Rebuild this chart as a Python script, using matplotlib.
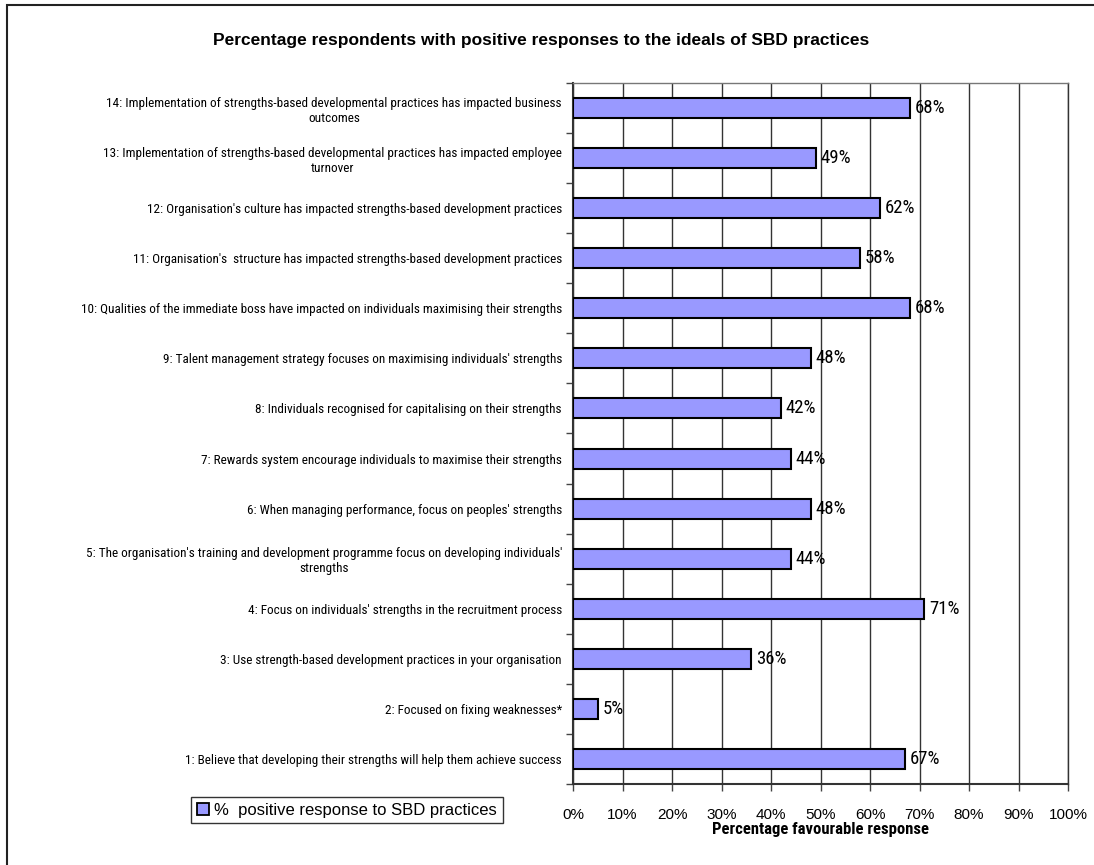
import matplotlib
matplotlib.use("Agg")
import matplotlib.pyplot as plt
from matplotlib.patches import Rectangle, Patch
import numpy as np

plt.rcParams['font.family'] = ['Liberation Sans', 'DejaVu Sans']
narrow = ['Roboto Condensed', 'Liberation Sans', 'DejaVu Sans']

labels = [
    "1: Believe that developing their strengths will help them achieve success",
    "2: Focused on fixing weaknesses*",
    "3: Use strength-based development practices in your organisation",
    "4: Focus on individuals' strengths in the recruitment process",
    "5: The organisation's training and development programme focus on developing individuals'\nstrengths",
    "6: When managing performance, focus on peoples' strengths",
    "7: Rewards system encourage individuals to maximise their strengths",
    "8: Individuals recognised for capitalising on their strengths",
    "9: Talent management strategy focuses on maximising individuals' strengths",
    "10: Qualities of the immediate boss have impacted on individuals maximising their strengths",
    "11: Organisation's  structure has impacted strengths-based development practices",
    "12: Organisation's culture has impacted strengths-based development practices",
    "13: Implementation of strengths-based developmental practices has impacted employee\nturnover",
    "14: Implementation of strengths-based developmental practices has impacted business\noutcomes",
]
values = [67, 5, 36, 71, 44, 48, 44, 42, 48, 68, 58, 62, 49, 68]
xticks = list(range(0, 101, 10))

W, H = 1094, 865
fig = plt.figure(figsize=(W / 100, H / 100), dpi=100)
ax = fig.add_axes([573 / W, 1 - 784 / H, (1068 - 573) / W, (784 - 83) / H])

# outer chart frame (cut off at right/bottom)
fig.patches.append(Rectangle((7 / W, -0.1), 1.2, 1 - 5 / H + 0.1, transform=fig.transFigure,
                             fill=False, edgecolor='#222222', linewidth=1.5))

y = np.arange(len(values))
ax.barh(y, values, height=0.4, color='#9999FF', edgecolor='black', linewidth=1.5, zorder=3)

for yi, v in zip(y, values):
    ax.text(v + 1.0, yi, f"{v}%", va='center', ha='left', fontsize=13.5, family=narrow, zorder=4)

ax.set_xlim(0, 100)
ax.set_ylim(-0.5, len(values) - 0.5)
ax.set_xticks(xticks)
ax.set_xticklabels([f"{t}%" for t in xticks], fontsize=11)
ax.set_yticks(y)
ax.set_yticklabels(labels, fontsize=9.5, family=narrow)
for t in ax.get_yticklabels():
    t.set_multialignment('center')
ax.set_yticks(np.arange(-0.5, len(values), 1), minor=True)
ax.tick_params(axis='y', which='major', length=0, pad=8)
ax.tick_params(axis='y', which='minor', length=5, width=1, color='#444444')
ax.tick_params(axis='x', which='major', length=5, width=1, color='#444444', pad=12)

ax.grid(axis='x', color='#333333', linewidth=1, zorder=0)
for s in ['left', 'bottom', 'right']:
    ax.spines[s].set_color('#333333')
    ax.spines[s].set_linewidth(1.5 if s != 'right' else 1)
ax.spines['top'].set_color('#777777')
ax.spines['top'].set_linewidth(1)

ax.set_xlabel("Percentage favourable response", fontsize=12, fontweight='bold',
              family=narrow, labelpad=0)

fig.text(541 / W, 1 - 40 / H, "Percentage respondents with positive responses to the ideals of SBD practices",
         ha='center', va='center', fontsize=12.5, fontweight='bold')

leg = fig.legend(handles=[Patch(facecolor='#9999FF', edgecolor='black', linewidth=1.3,
                                label='%  positive response to SBD practices')],
                 loc='center', bbox_to_anchor=(347 / W, 1 - 810 / H), fontsize=12,
                 frameon=True, fancybox=False, edgecolor='black', handlelength=0.7,
                 handleheight=0.7, handletextpad=0.3, borderpad=0.35, borderaxespad=0)
leg.get_frame().set_linewidth(1)

fig.savefig("out.png", dpi=100)
